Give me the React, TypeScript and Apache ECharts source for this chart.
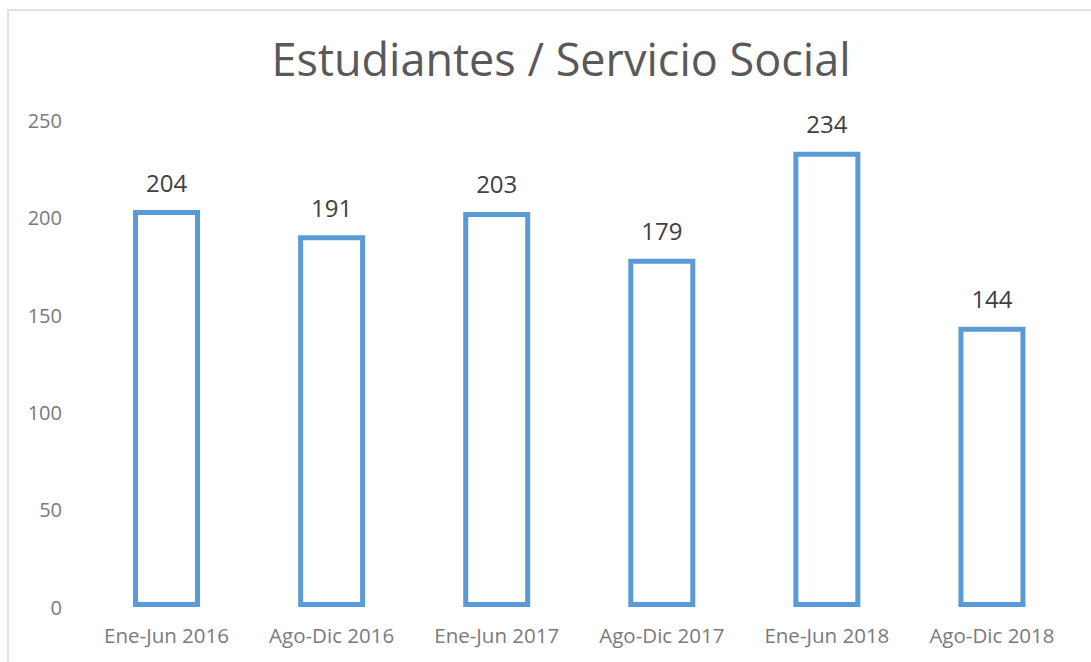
import React, { useEffect, useRef } from "react";
import * as echarts from "echarts";

const categories = ["Ene-Jun 2016", "Ago-Dic 2016", "Ene-Jun 2017", "Ago-Dic 2017", "Ene-Jun 2018", "Ago-Dic 2018"];
const values = [204, 191, 203, 179, 234, 144];
const titleText = "Estudiantes / Servicio Social";

export default function App() {
  const ref = useRef<HTMLDivElement>(null);
  useEffect(() => {
    if (!ref.current) return;
    const chart = echarts.init(ref.current, null, { renderer: "svg" });
    const font = "'Open Sans', 'Noto Sans', sans-serif";
    chart.setOption({
      animation: false,
      backgroundColor: "#ffffff",
      title: {
        text: titleText,
        left: 556,
        textAlign: "center",
        top: 31,
        textStyle: { fontFamily: font, fontSize: 45, fontWeight: "normal", color: "#595959" },
      },
      graphic: [
        {
          type: "rect",
          shape: { x: 8, y: 10, width: 1200, height: 800 },
          style: { fill: "none", stroke: "#d9d9d9", lineWidth: 1.5 },
          silent: true,
        },
      ],
      grid: { left: 84, right: 16.5, top: 120.5, bottom: 55, containLabel: false },
      xAxis: {
        type: "category",
        data: categories,
        axisLine: { show: false },
        axisTick: { show: false },
        axisLabel: { fontFamily: font, fontSize: 20.5, color: "#7a7a7a", margin: 17 },
      },
      yAxis: {
        type: "value",
        min: 0,
        max: 250,
        interval: 50,
        splitLine: { show: false },
        axisLine: { show: false },
        axisTick: { show: false },
        axisLabel: { fontFamily: font, fontSize: 20, color: "#7a7a7a", margin: 22 },
      },
      series: [
        {
          type: "bar",
          data: values,
          barWidth: 67,
          itemStyle: { color: "#ffffff", borderColor: "#5b9bd5", borderWidth: 5 },
          label: {
            show: true,
            position: "top",
            distance: 16,
            fontFamily: font,
            fontSize: 24,
            color: "#404040",
          },
        },
      ],
    });
    return () => chart.dispose();
  }, []);
  return <div ref={ref} style={{ position: "absolute", left: 0, top: 0, width: 1091, height: 662 }} />;
}
